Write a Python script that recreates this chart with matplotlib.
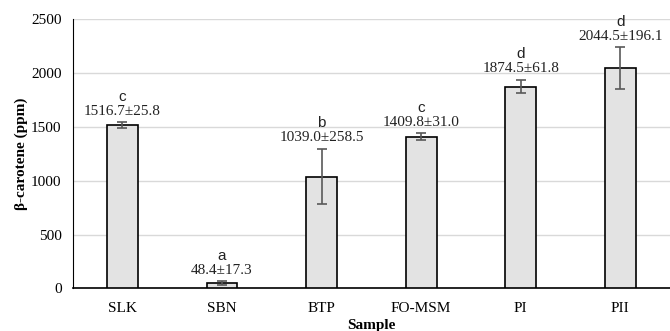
import numpy as np
import matplotlib.pyplot as plt

### DATA
samples = ['SLK', 'SBN', 'BTP', 'FO-MSM', 'PI', 'PII']
means = [1516.7, 48.4, 1039.0, 1409.8, 1874.5, 2044.5]
sds = [25.8, 17.3, 258.5, 31.0, 61.8, 196.1]
letters = ['c', 'a', 'b', 'c', 'd', 'd']

serif = 'Liberation Serif'
sans = 'Liberation Sans'

fig = plt.figure(figsize=(6.7, 3.31), dpi=100)
ax = fig.add_axes([0.1085, 0.129, 0.8915, 0.8127])

x = np.arange(len(samples))
ax.bar(x, means, width=0.31, color='#e3e3e3', edgecolor='black', linewidth=1.2, zorder=3)
ax.errorbar(x, means, yerr=sds, fmt='none', ecolor='#595959', elinewidth=1.2,
            capsize=3.5, capthick=1.2, zorder=4)

### Labels above error bars
for xi, m, s, l in zip(x, means, sds, letters):
    ax.annotate('%.1f\u00b1%.1f' % (m, s), (xi, m + s), xytext=(0, 8),
                textcoords='offset points', ha='center', va='center',
                family=serif, fontsize=11, color='#222222')
    ax.annotate(l, (xi, m + s), xytext=(0, 18.5),
                textcoords='offset points', ha='center', va='center',
                family=sans, fontsize=11, color='#222222')

ax.set_xlim(-0.5, len(samples) - 0.5)
ax.set_ylim(0, 2500)
ax.set_yticks(np.arange(0, 2501, 500))
ax.set_xticks(x)
ax.set_xticklabels(samples)
ax.yaxis.grid(True, color='#d9d9d9', linewidth=1, zorder=0)
ax.set_axisbelow(True)
for lab in ax.get_xticklabels() + ax.get_yticklabels():
    lab.set_family(serif)
    lab.set_fontsize(11)
ax.tick_params(length=0, pad=8)
ax.tick_params(axis='x', pad=10)

ax.spines['top'].set_visible(False)
ax.spines['right'].set_visible(False)
ax.spines['left'].set_linewidth(0.8)
ax.spines['bottom'].set_linewidth(1.2)

ax.set_ylabel('\u03b2-carotene (ppm)', family=serif, fontsize=11, fontweight='bold', labelpad=2)
ax.set_xlabel('Sample', family=serif, fontsize=11, fontweight='bold', labelpad=3)

fig.savefig('out.png', dpi=100)
